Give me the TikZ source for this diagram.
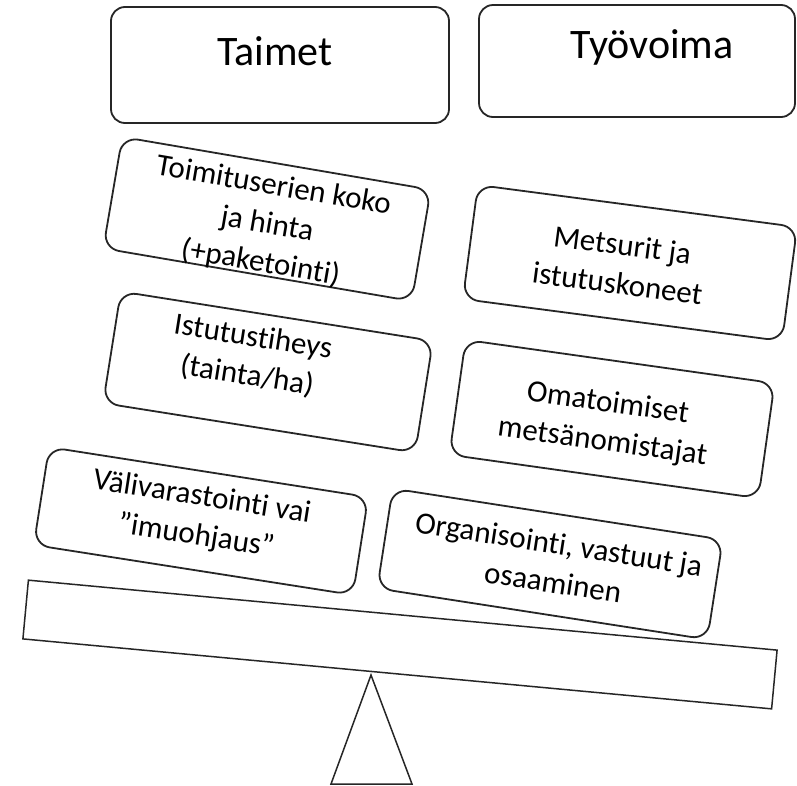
\documentclass[tikz,border=0pt]{standalone}
\usepackage{fontspec}
\setmainfont{Carlito}[Ligatures=NoCommon]
\tikzset{
  panel/.style={draw=black!85, line width=1.8pt, rounded corners=16pt, inner sep=0pt},
  headtxt/.style={font=\fontsize{42}{50}\selectfont, inner sep=0pt},
  bodytxt/.style={font=\fontsize{31}{39}\selectfont, align=center, inner sep=0pt},
  plain/.style={draw=black!85, line width=1.5pt, inner sep=0pt}
}
\begin{document}
\begin{tikzpicture}[x=1pt,y=1pt]
\useasboundingbox (0,0) rectangle (797,-785);
% top boxes
\node[panel, minimum width=338pt, minimum height=116pt, rounded corners=14pt] (taimetbox) at (280,-65) {};
\node[headtxt, anchor=base] (taimet) at (275,-65) {Taimet};
\node[panel, minimum width=316pt, minimum height=112pt, rounded corners=14pt] (tyobox) at (637,-61) {};
\node[headtxt, anchor=base] (tyo) at (652,-58) {Työvoima};
% rotated boxes
\node[panel, minimum width=313pt, minimum height=113pt, rotate=-9.7] (abox) at (267,-219) {};
\node[bodytxt, rotate=-9.7] (atxt) at (267,-225) {Toimituserien koko\\ja hinta\\(+paketointi)};
\node[panel, minimum width=322pt, minimum height=115pt, rotate=-7.5] (bbox) at (630,-263) {};
\node[bodytxt, rotate=-7.5] (btxt) at (620,-264) {Metsurit ja\\istutuskoneet};
\node[panel, minimum width=316pt, minimum height=113pt, rotate=-9] (cbox) at (268,-372) {};
\node[bodytxt, rotate=-9] (ctxt) at (250,-357) {Istutustiheys\\(tainta/ha)};
\node[panel, minimum width=312pt, minimum height=116pt, rotate=-8] (dbox) at (612,-419) {};
\node[bodytxt, rotate=-8] (dtxt) at (605,-423) {Omatoimiset\\metsänomistajat};
\node[panel, minimum width=323pt, minimum height=99pt, rotate=-8.9] (ebox) at (201,-521) {};
\node[bodytxt, rotate=-8.9] (etxt) at (199,-517) {Välivarastointi vai\\”imuohjaus”};
\node[panel, minimum width=334pt, minimum height=101pt, rotate=-8.8] (fbox) at (550,-564) {};
\node[bodytxt, rotate=-8.8] (ftxt) at (556,-563) {Organisointi, vastuut ja\\osaaminen};
% beam and fulcrum
\node[plain, minimum width=752pt, minimum height=59pt, rotate=-5.34] (beam) at (400,-644.5) {};
\coordinate (apex) at (371,-675);
\coordinate (bl) at (331,-784);
\coordinate (br) at (412,-784);
\draw[draw=black!85, line width=1.5pt, line join=miter] (apex) -- (br) -- (bl) -- cycle;
\end{tikzpicture}
\end{document}
